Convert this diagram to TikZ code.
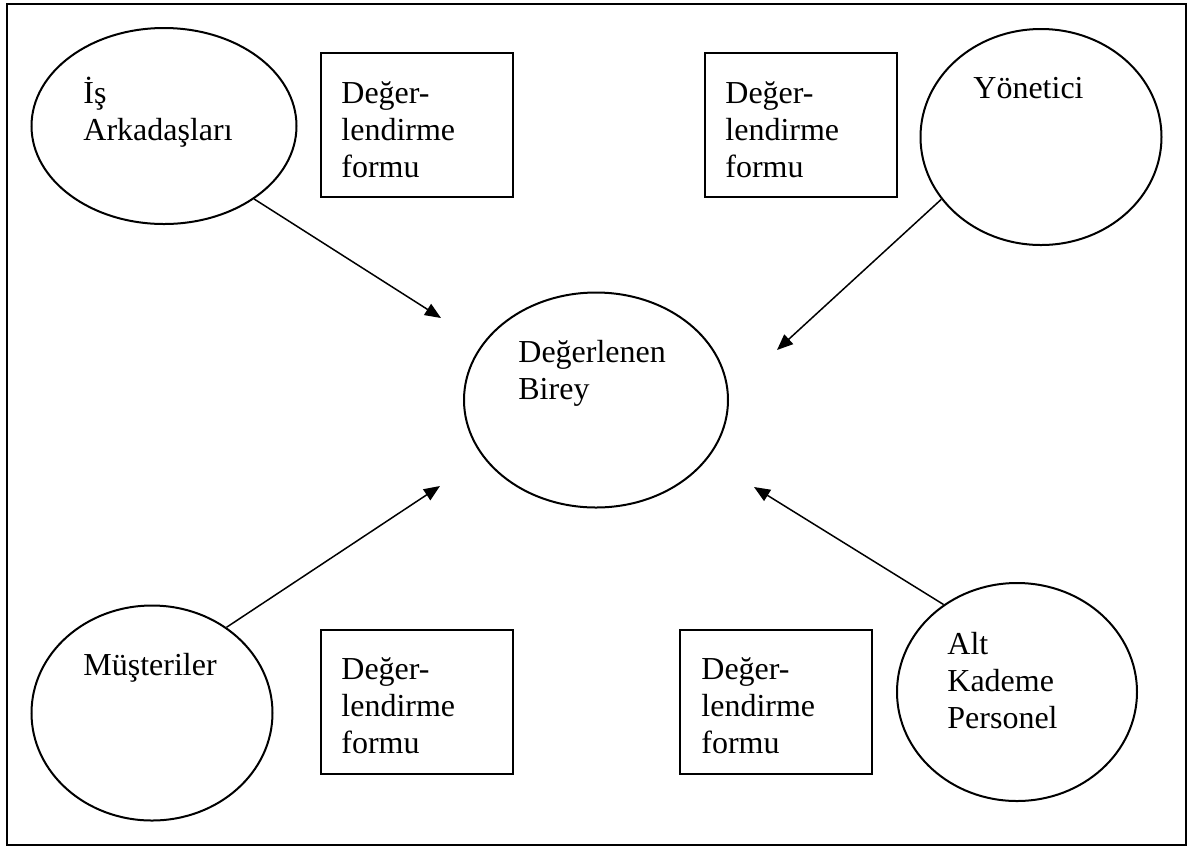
\documentclass[tikz,border=0pt]{standalone}
\usepackage{fontspec}
\setmainfont{Liberation Serif}
\usetikzlibrary{shapes,arrows.meta,positioning}

\begin{document}
\begin{tikzpicture}[
    x=0.5pt, y=-0.5pt,
    rater/.style={ellipse, draw, line width=1pt, inner sep=0pt},
    form/.style={rectangle, draw, line width=1pt, minimum width=96pt, minimum height=72pt},
    txt/.style={anchor=base west, align=left, inner sep=0pt, font=\fontsize{16}{18.5}\selectfont},
    arrow/.style={-{Triangle[length=8pt, width=6.5pt]}, line width=0.75pt}
]
\useasboundingbox (0,0) rectangle (1195,848);
\draw[line width=1pt] (7,4) rectangle (1186,845);

% the people who fill in the form (text placed by its last line)
\node[rater, minimum width=132.5pt, minimum height=98pt] (isarkadas) at (164,126) {};
\node[txt] (isarkadastxt) at (83,140) {İş\\Arkadaşları};

\node[rater, minimum width=120.5pt, minimum height=108pt] (yonetici) at (1041,137) {};
\node[txt] (yoneticitxt) at (973,98) {Yönetici};

\node[rater, minimum width=120.5pt, minimum height=107.5pt] (musteri) at (152,713) {};
\node[txt] (musteritxt) at (83,675) {Müşteriler};

\node[rater, minimum width=120pt, minimum height=109pt] (altkademe) at (1017,692) {};
\node[txt] (altkademetxt) at (947,728) {Alt\\Kademe\\Personel};

% the one being rated
\node[rater, minimum width=132pt, minimum height=107.5pt] (birey) at (596,400) {};
\node[txt] (bireytxt) at (518,399) {Değerlenen\\Birey};

% forms
\node[form] (formA) at (417,125) {};
\node[txt] (formAtxt) at (341,177) {Değer-\\lendirme\\formu};
\node[form] (formB) at (801,125) {};
\node[txt] (formBtxt) at (725,177) {Değer-\\lendirme\\formu};
\node[form] (formC) at (417,702) {};
\node[txt] (formCtxt) at (341,753) {Değer-\\lendirme\\formu};
\node[form] (formD) at (776,702) {};
\node[txt] (formDtxt) at (701,753) {Değer-\\lendirme\\formu};

\coordinate (tipA) at (441,318);
\coordinate (tipB) at (777,350);
\coordinate (tipC) at (440,486);
\coordinate (tipD) at (754,487);

\draw[arrow] (isarkadas.-39) -- (tipA);
\draw[arrow] (yonetici.-148) -- (tipB);
\draw[arrow] (musteri.49) -- (tipC);
\draw[arrow] (altkademe.130) -- (tipD);

\end{tikzpicture}
\end{document}
